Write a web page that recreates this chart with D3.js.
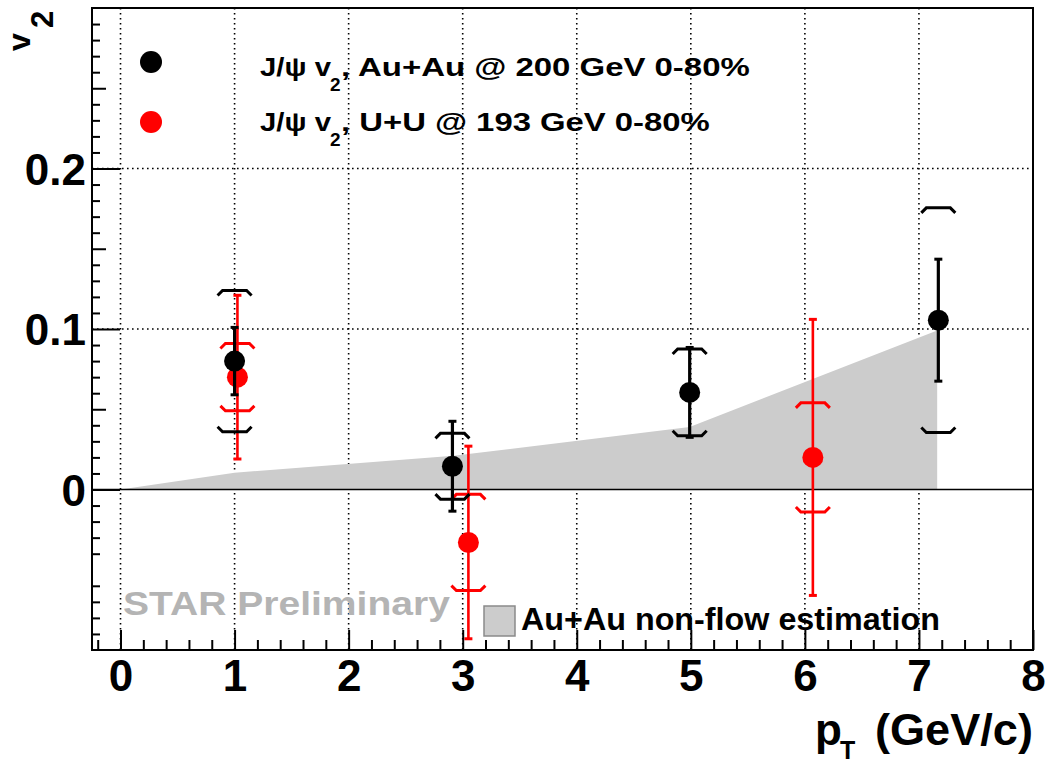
<!DOCTYPE html>
<html><head><meta charset="utf-8">
<script src="https://cdn.jsdelivr.net/npm/d3@7"></script>
<style>
body{margin:0;background:#fff}
svg{display:block}
text{font-family:"Liberation Sans",Arial,Helvetica,sans-serif;font-weight:bold}
</style>
</head><body>
<svg id="chart" width="1046" height="767"></svg>
<script>
// ---- data ----
const auPt   = [1.0, 2.91, 4.99, 7.17];
const auV2   = [0.080, 0.0145, 0.0605, 0.1055];
const auStat = [0.021, 0.028, 0.028, 0.038];
const auSys  = [0.044, 0.0205, 0.027, 0.070];

const uuPt   = [1.025, 3.05, 6.07];
const uuV2   = [0.070, -0.033, 0.020];
const uuStat = [0.051, 0.060, 0.086];
const uuSys  = [0.021, 0.030, 0.034];

const bandPt = [0, 1.0, 2.92, 4.99, 7.16];
const bandV2 = [0, 0.0105, 0.021, 0.039, 0.099];

const xTickValues = [0, 1, 2, 3, 4, 5, 6, 7, 8];
const yTickValues = [0, 0.1, 0.2];
const legendAu = ["J/\u03C8 v", "2", ", Au+Au @ 200 GeV 0-80%"];
const legendUU = ["J/\u03C8 v", "2", ", U+U @ 193 GeV 0-80%"];
const bandLabel = "Au+Au non-flow estimation";
const watermark = "STAR Preliminary";

// ---- layout ----
const L = 92, R = 1033, T = 8, B = 650;
const svg = d3.select("#chart");
const x = d3.scaleLinear().domain([-0.25, 8]).range([L, R]);
const y = d3.scaleLinear().domain([-0.1, 0.3]).range([B, T]);

// grid
const grid = svg.append("g").attr("stroke", "#000").attr("stroke-width", 1.6)
  .attr("stroke-dasharray", "1.6,3.4");
grid.selectAll("line.gx").data(d3.range(0, 8)).enter().append("line")
  .attr("x1", d => x(d)).attr("x2", d => x(d)).attr("y1", T).attr("y2", B);
grid.selectAll("line.gy").data([0.1, 0.2]).enter().append("line")
  .attr("x1", L).attr("x2", R).attr("y1", d => y(d)).attr("y2", d => y(d));

// band
const band = bandPt.map((p, i) => [p, bandV2[i]]);
band.push([bandPt[bandPt.length - 1], 0]);
svg.append("path")
  .attr("d", d3.line().x(d => x(d[0])).y(d => y(d[1]))(band) + "Z")
  .attr("fill", "#cccccc");

// zero line
svg.append("line").attr("x1", L).attr("x2", R).attr("y1", y(0)).attr("y2", y(0))
  .attr("stroke", "#000").attr("stroke-width", 1.6);

// data drawing
function drawSeries(pt, v2, stat, sys, color, lw) {
  const g = svg.append("g");
  pt.forEach((p, i) => {
    const cx = x(p), cy = y(v2[i]);
    const yt = y(v2[i] + sys[i]), yb = y(v2[i] - sys[i]);
    g.append("path").attr("fill", "none").attr("stroke", color).attr("stroke-width", 3)
      .attr("d", `M${cx-17},${yt+5}L${cx-12},${yt}L${cx+12},${yt}L${cx+17},${yt+5}`);
    g.append("path").attr("fill", "none").attr("stroke", color).attr("stroke-width", 3)
      .attr("d", `M${cx-17},${yb-5}L${cx-12},${yb}L${cx+12},${yb}L${cx+17},${yb-5}`);
    const st = y(v2[i] + stat[i]), sb = y(v2[i] - stat[i]);
    g.append("line").attr("x1", cx).attr("x2", cx).attr("y1", st).attr("y2", sb)
      .attr("stroke", color).attr("stroke-width", lw);
    [st, sb].forEach(v => g.append("line").attr("x1", cx - 4).attr("x2", cx + 4)
      .attr("y1", v).attr("y2", v).attr("stroke", color).attr("stroke-width", 3));
    g.append("circle").attr("cx", cx).attr("cy", cy).attr("r", 10.5).attr("fill", color);
  });
}
drawSeries(uuPt, uuV2, uuStat, uuSys, "#ff0000", 2.6);
drawSeries(auPt, auV2, auStat, auSys, "#000000", 3.2);

// axes
const minorX = d3.range(-0.2, 8.001, 0.2).filter(v => Math.abs(v - Math.round(v)) > 1e-6);
const axB = svg.append("g").attr("transform", `translate(0,${B})`);
axB.call(d3.axisBottom(x).tickValues(minorX).tickSize(-10).tickFormat(""));
const axB2 = svg.append("g").attr("transform", `translate(0,${B})`);
axB2.call(d3.axisBottom(x).tickValues(xTickValues).tickSize(-20).tickPadding(10).tickFormat(d3.format("d")));
[axB, axB2].forEach(a => { a.select(".domain").remove(); a.selectAll("line").attr("stroke-width", 2); });
axB2.selectAll("text").attr("font-size", 44).attr("font-family", null).attr("fill", "#000");

const minorY = d3.range(-0.1, 0.3001, 0.01).map(v => +v.toFixed(2));
const axL = svg.append("g").attr("transform", `translate(${L},0)`);
axL.call(d3.axisLeft(y).tickValues(minorY.filter(v => Math.round(v * 100) % 5 !== 0)).tickSize(-8).tickFormat(""));
const axLm = svg.append("g").attr("transform", `translate(${L},0)`);
axLm.call(d3.axisLeft(y).tickValues(minorY.filter(v => Math.round(v * 100) % 10 === 5)).tickSize(-14).tickFormat(""));
const axL2 = svg.append("g").attr("transform", `translate(${L},0)`);
axL2.call(d3.axisLeft(y).tickValues(yTickValues).tickSize(-28).tickPadding(6).tickFormat(d => d === 0 ? "0" : d3.format(".1f")(d)));
[axL, axLm, axL2].forEach(a => { a.select(".domain").remove(); a.selectAll("line").attr("stroke-width", 2); });
axL2.selectAll("text").attr("font-size", 44).attr("font-family", null).attr("fill", "#000").attr("dy", "0.36em");

// frame
svg.append("rect").attr("x", L).attr("y", T).attr("width", R - L).attr("height", B - T)
  .attr("fill", "none").attr("stroke", "#000").attr("stroke-width", 2);

// fitted text helper
function fitText(str, x0, base, width, size, fill) {
  const g = svg.append("g");
  const t = g.append("text").attr("x", 0).attr("y", 0).attr("font-size", size)
    .attr("fill", fill || "#000").text(str);
  const w = t.node().getComputedTextLength();
  const s = width ? width / w : 1;
  g.attr("transform", `translate(${x0},${base}) scale(${s},1)`);
  return g;
}

// legend markers
svg.append("circle").attr("cx", 151).attr("cy", 62).attr("r", 11).attr("fill", "#000");
svg.append("circle").attr("cx", 151).attr("cy", 122).attr("r", 11).attr("fill", "#ff0000");
fitText(legendAu[0], 260, 76, 71, 26);
fitText(legendAu[1], 330, 91, null, 19);
fitText(legendAu[2], 341, 76, 409, 26);
fitText(legendUU[0], 260, 131, 71, 26);
fitText(legendUU[1], 330, 146, null, 19);
fitText(legendUU[2], 341, 131, 369, 26);

// watermark
fitText(watermark, 123, 615, 327, 33, "#b4b4b4");

// band legend
svg.append("rect").attr("x", 484).attr("y", 606).attr("width", 31).attr("height", 30)
  .attr("fill", "#cccccc").attr("stroke", "#8a8a8a").attr("stroke-width", 1.5);
fitText(bandLabel, 521, 630, 419, 32);

// axis titles
fitText("p", 815, 745, null, 44);
fitText("T", 840, 759, null, 25);
fitText("(GeV/c)", 875, 745, 158, 44);

const yt = svg.append("g").attr("transform", "translate(30,51) rotate(-90)");
yt.append("text").attr("x", 0).attr("y", 0).attr("font-size", 32).text("v");
yt.append("text").attr("x", 23).attr("y", 23).attr("font-size", 31).text("2");
</script>
</body></html>
